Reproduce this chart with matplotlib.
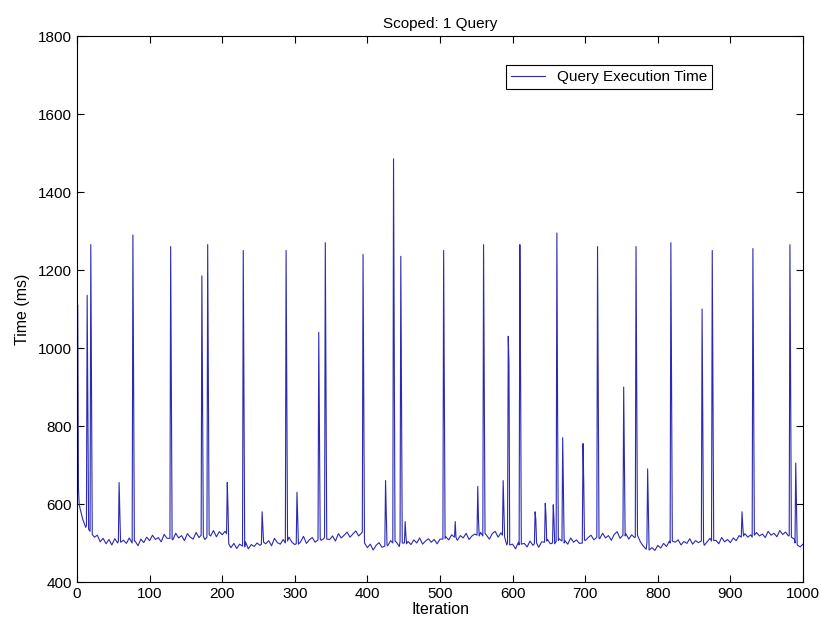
import numpy as np
import matplotlib.pyplot as plt

# baseline query time, one reading every 4 iterations (0..1000)
base_step = 4
base_ms = [
    620, 590, 560, 540, 532, 526, 515, 520, 503, 512, 498, 509, 495, 511, 500, 492, 507, 499, 513, 496, 505, 493, 510, 501, 515,
    506, 520, 509, 514, 503, 522, 512, 517, 508, 525, 513, 519, 506, 524, 515, 510, 527, 514, 521, 509, 526, 518, 532, 516, 529,
    521, 530, 495, 488, 499, 486, 497, 492, 503, 485, 496, 491, 500, 494, 510, 498, 506, 493, 512, 501, 497, 509, 500, 515, 502,
    496, 510, 503, 517, 499, 508, 514, 502, 519, 507, 511, 522, 509, 518, 505, 524, 513, 520, 528, 515, 523, 531, 518, 526, 500,
    488, 497, 482, 494, 501, 489, 498, 493, 506, 495, 502, 491, 510, 499, 504, 496, 508, 500, 513, 497, 505, 511, 502, 509, 498,
    510, 504, 516, 508, 521, 512, 507, 519, 513, 525, 509, 518, 523, 511, 527, 516, 520, 510, 524, 530, 515, 526, 519, 495, 488,
    497, 485, 502, 493, 499, 490, 505, 494, 500, 489, 503, 496, 509, 498, 504, 493, 511, 500, 506, 497, 513, 502, 508, 499, 515,
    506, 514, 520, 508, 517, 511, 525, 513, 519, 507, 522, 529, 512, 518, 524, 510, 521, 514, 509, 503, 492, 484, 476, 488, 481,
    494, 487, 499, 491, 505, 496, 502, 508, 495, 504, 499, 511, 497, 506, 501, 509, 494, 503, 512, 500, 507, 498, 514, 503, 509,
    501, 513, 506, 519, 510, 524, 515, 521, 512, 527, 518, 523, 514, 530, 520, 525, 516, 532, 522, 528, 518, 524, 510, 498, 490,
    497,
]

# spikes: iteration of the peak, value just before, peak, next value, value after that
spike_iter = [1, 14, 19, 58, 77, 129, 172, 180, 207, 229, 255, 288, 303, 333, 342, 394,
              425, 436, 446, 452, 505, 521, 552, 560, 587, 594, 610, 631, 645, 656, 661,
              669, 697, 717, 753, 770, 786, 818, 861, 875, 916, 931, 982, 990]
spike_before = [620, 545, 530, 505, 500, 512, 520, 515, 524, 492, 497, 500, 498, 508, 515, 528,
                492, 500, 505, 500, 510, 515, 520, 518, 520, 500, 495, 498, 502, 500, 504,
                505, 500, 515, 520, 515, 500, 500, 505, 505, 515, 515, 520, 500]
spike_peak = [1110, 1135, 1265, 655, 1290, 1260, 1185, 1265, 655, 1250, 580, 1250, 630, 1040, 1270, 1240,
              660, 1485, 1235, 555, 1250, 555, 645, 1265, 660, 1030, 1265, 580, 602, 598, 1295,
              770, 755, 1260, 900, 1260, 690, 1270, 1100, 1250, 580, 1255, 1265, 705]
spike_next = [640, 840, 895, 575, 900, 885, 855, 890, 590, 875, 540, 875, 560, 780, 905, 870,
              580, 995, 865, 520, 880, 515, 560, 890, 590, 960, 935, 560, 570, 560, 825,
              635, 655, 880, 710, 890, 590, 880, 805, 870, 545, 885, 895, 600]
spike_after = [600, 535, 522, 502, 505, 510, 518, 522, 498, 490, 502, 505, 497, 512, 510, 500,
               495, 505, 500, 498, 512, 510, 518, 525, 515, 495, 497, 500, 505, 498, 506,
               500, 508, 512, 518, 520, 482, 505, 503, 506, 518, 520, 515, 495]

series = dict(zip(range(0, 1001, base_step), base_ms))
for x, b, hi, nx, a in zip(spike_iter, spike_before, spike_peak, spike_next, spike_after):
    series[x - 1] = b
    series[x] = hi
    series[x + 1] = nx
    series[x + 2] = a
xs = np.array(sorted(k for k in series if 0 <= k <= 1000))
ys = np.array([series[k] for k in xs])

plt.rcParams['font.family'] = ['Liberation Sans', 'DejaVu Sans']

fig = plt.figure(figsize=(8.21, 6.21), dpi=100)
ax = fig.add_axes([77 / 821, 39 / 621, 726 / 821, 546 / 621])
ax.plot(xs, ys, color='#2a2ab4', lw=0.8, label='Query Execution Time')

ax.set_xlim(0, 1000)
ax.set_ylim(400, 1800)
ax.set_xticks(np.arange(0, 1001, 100))
ax.set_yticks(np.arange(400, 1801, 200))
ax.tick_params(direction='in', top=True, right=True, length=5, labelsize=11)
for s in ax.spines.values():
    s.set_linewidth(0.8)

ax.set_title('Scoped: 1 Query', fontsize=11, pad=6)
ax.set_xlabel('Iteration', fontsize=11.5, labelpad=1)
ax.set_ylabel('Time (ms)', fontsize=11.5, labelpad=6)

leg = ax.legend(loc='upper right', bbox_to_anchor=((720 - 77) / 726, (582 - 57) / 546),
                fancybox=False, edgecolor='black', fontsize=11, handlelength=2.2,
                borderpad=0.35, framealpha=1)
leg.get_frame().set_linewidth(0.8)

fig.savefig('out.png', dpi=100)
